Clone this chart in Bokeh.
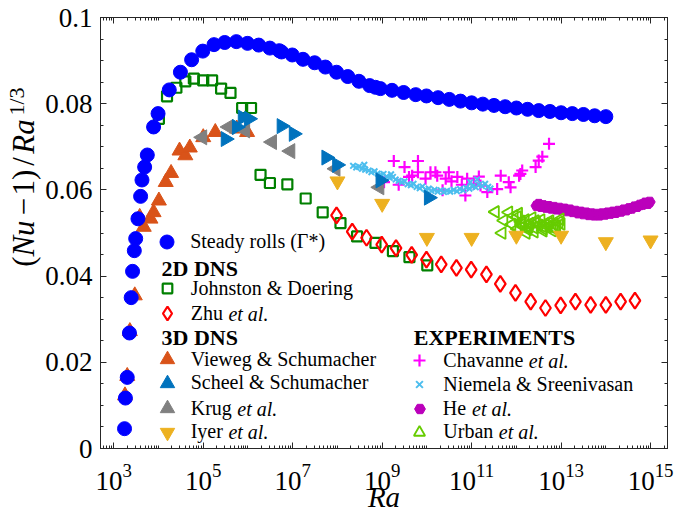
import math
from bokeh.plotting import figure
from bokeh.layouts import row
from bokeh.models import (FixedTicker, LinearAxis, LogAxis, Legend, LegendItem,
                          Label, Range1d)
from bokeh.embed import file_html
from bokeh.resources import INLINE

FONT = "Liberation Serif"
AX = "#262626"

# ---------------- data ----------------
steady_ra = [1.74e3, 1.82e3, 2.00e3, 2.24e3, 2.45e3, 2.63e3, 2.88e3, 3.09e3, 3.47e3, 3.98e3,
             4.27e3, 4.90e3, 5.62e3, 7.76e3, 9.77e3, 1.74e4, 3.09e4, 5.50e4, 9.77e4, 1.74e5,
             3.02e5, 5.50e5, 9.77e5, 1.74e6, 3.09e6, 5.01e6, 5.62e6, 9.77e6, 1.70e7, 3.09e7,
             5.37e7, 9.55e7, 1.70e8, 3.02e8, 5.25e8, 7.08e8, 9.12e8, 1.66e9, 3.02e9, 5.62e9,
             9.77e9, 1.78e10, 3.16e10, 5.62e10, 1.00e11, 1.78e11, 3.16e11, 5.62e11, 1.00e12,
             1.78e12, 3.16e12, 5.62e12, 1.00e13, 1.78e13, 3.16e13, 5.62e13, 1.00e14]
steady_nu = [0.0046, 0.0117, 0.0165, 0.0268, 0.0350, 0.0411, 0.0459, 0.0487, 0.0533, 0.0585,
             0.0623, 0.0653, 0.0681, 0.0746, 0.0777, 0.0832, 0.0873, 0.0902, 0.0922, 0.0937,
             0.0942, 0.0944, 0.0940, 0.0936, 0.0929, 0.0923, 0.0920, 0.0913, 0.0903, 0.0895,
             0.0885, 0.0873, 0.0863, 0.0852, 0.0842, 0.0838, 0.0835, 0.0831, 0.0826, 0.0821,
             0.0818, 0.0814, 0.0810, 0.0806, 0.0802, 0.0799, 0.0796, 0.0793, 0.0790,
             0.0787, 0.0784, 0.0782, 0.0779, 0.0777, 0.0775, 0.0772, 0.0770]

jd_ra = [1.02e4, 1.55e4, 2.51e4, 3.98e4, 6.17e4, 1.00e5, 1.58e5, 2.51e5, 4.07e5, 7.41e5,
         1.17e6, 1.91e6, 3.09e6, 7.59e6, 1.95e7, 4.68e7, 1.17e8, 2.75e8, 7.08e8, 1.74e9,
         4.07e9, 1.02e10]
jd_nu = [0.0765, 0.0817, 0.0837, 0.0852, 0.0858, 0.0854, 0.0854, 0.0835, 0.0825, 0.0790,
         0.0790, 0.0635, 0.0616, 0.0613, 0.0580, 0.0548, 0.0523, 0.0492, 0.0477, 0.0458,
         0.0444, 0.0425]

zhu_ra = [9.55e7, 2.14e8, 4.47e8, 9.77e8, 2.04e9, 4.57e9, 9.77e9, 2.09e10, 4.57e10, 9.77e10,
          2.14e11, 4.37e11, 9.55e11, 2.09e12, 4.47e12, 9.77e12, 2.09e13, 4.57e13, 1.00e14,
          2.14e14, 4.47e14]
zhu_nu = [0.0541, 0.0503, 0.0489, 0.0473, 0.0465, 0.0449, 0.0438, 0.0427, 0.0419, 0.0415,
          0.0404, 0.0382, 0.0361, 0.0341, 0.0326, 0.0332, 0.0341, 0.0333, 0.0333,
          0.0341, 0.0343]

vie_ra = [1.78e3, 2.00e3, 2.29e3, 2.95e3, 3.80e3, 4.68e3, 6.61e3, 7.76e3, 1.02e4, 1.45e4,
          1.91e4, 2.95e4, 3.98e4, 5.01e4, 1.00e5, 1.86e5, 5.62e5, 9.55e5]
vie_nu = [0.0123, 0.0168, 0.0272, 0.0355, 0.0537, 0.0514, 0.0533, 0.0548, 0.0575, 0.0618,
          0.0639, 0.0691, 0.0680, 0.0698, 0.0722, 0.0734, 0.0742, 0.0734]

scheel_ra = [3.16e5, 5.62e5, 7.59e5, 1.05e6, 5.62e6, 1.05e7, 5.62e7, 9.77e7, 9.12e8, 1.10e10]
scheel_nu = [0.0718, 0.0746, 0.0768, 0.0765, 0.0748, 0.0730, 0.0675, 0.0658, 0.0622, 0.0582]

krug_ra = [9.55e4, 3.72e5, 8.71e5, 3.47e6, 8.91e6, 9.12e7, 8.71e8]
krug_nu = [0.0722, 0.0746, 0.0738, 0.0711, 0.0690, 0.0649, 0.0606]

iyer_ra = [1e8, 1e9, 1e10, 1e11, 1e12, 1e13, 1e14, 1e15]
iyer_nu = [0.0620, 0.0568, 0.0489, 0.0489, 0.0494, 0.0494, 0.0479, 0.0483]

chav_ra = [1.10e9, 1.82e9, 2.34e9, 3.16e9, 3.98e9, 4.68e9, 6.31e9, 6.31e9, 9.33e9, 1.20e10,
           1.55e10, 1.70e10, 2.24e10, 2.63e10, 3.09e10, 3.55e10, 4.79e10, 6.03e10, 7.24e10,
           7.94e10, 1.12e11, 1.45e11, 1.58e11, 2.24e11, 3.72e11, 4.47e11, 6.76e11, 7.41e11,
           1.15e12, 1.23e12, 1.35e12, 2.69e12, 3.16e12, 3.80e12, 5.37e12]
chav_nu = [0.0618, 0.0667, 0.0612, 0.0653, 0.0630, 0.0633, 0.0667, 0.0641, 0.0626, 0.0641,
           0.0641, 0.0633, 0.0599, 0.0626, 0.0641, 0.0620, 0.0630, 0.0612, 0.0587,
           0.0626, 0.0614, 0.0631, 0.0610, 0.0595, 0.0602, 0.0633, 0.0618, 0.0606,
           0.0633, 0.0637, 0.0645, 0.0653, 0.0668, 0.0677, 0.0707]

niem_ra = [2.24e8, 2.63e8, 3.02e8, 3.55e8, 3.98e8, 4.17e8, 5.01e8, 5.75e8, 6.76e8, 7.94e8,
           9.33e8, 1.07e9, 1.26e9, 1.48e9, 1.58e9, 1.74e9, 2.00e9, 2.34e9, 2.75e9, 3.16e9,
           3.72e9, 4.37e9, 5.01e9, 5.89e9, 6.92e9, 7.94e9, 9.33e9, 1.10e10, 1.26e10, 1.48e10,
           1.74e10, 2.04e10, 2.40e10, 2.82e10, 3.31e10, 3.98e10, 4.68e10, 5.50e10, 6.46e10,
           7.59e10, 8.91e10, 9.33e10, 1.05e11, 1.23e11, 1.32e11, 1.45e11, 1.70e11, 2.00e11,
           2.34e11, 2.63e11]
niem_nu = [0.0656, 0.0652, 0.0654, 0.0649, 0.0658, 0.0647, 0.0645, 0.0641, 0.0643, 0.0638,
           0.0635, 0.0637, 0.0631, 0.0628, 0.0636, 0.0630, 0.0624, 0.0621, 0.0618, 0.0620,
           0.0613, 0.0611, 0.0614, 0.0607, 0.0604, 0.0608, 0.0601, 0.0603, 0.0598, 0.0600,
           0.0596, 0.0599, 0.0595, 0.0598, 0.0596, 0.0600, 0.0597, 0.0602, 0.0599,
           0.0605, 0.0603, 0.0618, 0.0608, 0.0606, 0.0624, 0.0612, 0.0609, 0.0614,
           0.0607, 0.0603]

he_ra = [2.82e12, 3.16e12, 3.55e12, 3.98e12, 4.57e12, 5.25e12, 6.03e12, 6.92e12, 7.94e12,
         9.12e12, 1.05e13, 1.20e13, 1.38e13, 1.58e13, 1.82e13, 2.09e13, 2.40e13, 2.75e13,
         3.16e13, 3.63e13, 4.17e13, 4.79e13, 5.50e13, 6.31e13, 7.24e13, 8.32e13, 9.55e13,
         1.10e14, 1.26e14, 1.45e14, 1.66e14, 1.91e14, 2.19e14, 2.51e14, 2.88e14, 3.31e14,
         3.80e14, 4.37e14, 5.01e14, 5.75e14, 6.61e14, 7.59e14, 8.71e14, 9.55e14]
he_nu = [0.0563, 0.0567, 0.0561, 0.0564, 0.0559, 0.0562, 0.0557, 0.0560, 0.0555,
         0.0558, 0.0553, 0.0556, 0.0551, 0.0554, 0.0549, 0.0551, 0.0546, 0.0549,
         0.0544, 0.0547, 0.0542, 0.0545, 0.0541, 0.0544, 0.0541, 0.0545, 0.0543,
         0.0547, 0.0545, 0.0549, 0.0547, 0.0551, 0.0550, 0.0554, 0.0553, 0.0557,
         0.0557, 0.0561, 0.0561, 0.0565, 0.0566, 0.0570, 0.0568, 0.0572]

urban_ra = [3.39e11, 6.76e11, 5.25e11, 1.05e12, 4.79e11, 1.05e12, 7.94e11, 1.26e12, 1.41e12,
            1.58e12, 1.78e12, 2.00e12, 2.24e12, 2.51e12, 2.82e12, 3.16e12, 3.55e12, 3.98e12,
            4.47e12, 5.01e12, 5.62e12, 6.31e12, 7.08e12, 7.94e12, 8.91e12, 1.00e13, 1.66e12,
            2.51e12, 3.98e12, 6.31e12, 9.55e12, 8.91e11, 1.12e12, 1.32e12, 1.91e12, 2.63e12,
            3.80e12, 5.25e12, 7.59e12]
urban_nu = [0.0549, 0.0548, 0.0529, 0.0537, 0.0500, 0.0510, 0.0520, 0.0527, 0.0515,
            0.0530, 0.0508, 0.0522, 0.0535, 0.0512, 0.0525, 0.0518, 0.0530, 0.0510,
            0.0522, 0.0515, 0.0528, 0.0512, 0.0520, 0.0516, 0.0525, 0.0521, 0.0500,
            0.0503, 0.0505, 0.0506, 0.0532, 0.0540, 0.0545, 0.0520, 0.0514, 0.0528,
            0.0516, 0.0522, 0.0510]

y_ticks = [0, 0.02, 0.04, 0.06, 0.08, 0.1]
y_tick_labels = ["0", "0.02", "0.04", "0.06", "0.08", "0.1"]
y_minor = [0.005 * i for i in range(21)]
x_ticks = [1e3, 1e5, 1e7, 1e9, 1e11, 1e13, 1e15]
x_minor = [m * 10.0 ** d for d in range(2, 16) for m in range(1, 10)]

# ---------------- layout geometry ----------------
W, H = 674, 518
STRIP = 42          # narrow strip on the left that carries the y-axis title
FL, FB = 100, 448   # frame left / bottom in page pixels

# left strip: its frame is the whole strip, so its texts are never clipped
ystrip = figure(width=STRIP, height=H, output_backend="svg", toolbar_location=None,
                min_border=0, x_axis_location=None, y_axis_location=None,
                x_range=Range1d(0, 1), y_range=Range1d(0, 1))
ystrip.grid.visible = False
ystrip.outline_line_color = None
ystrip.background_fill_color = "white"
ystrip.border_fill_color = "white"

p = figure(width=W - STRIP, height=H, x_axis_type="log",
           x_range=Range1d(505, 2.39e15), y_range=Range1d(0, 0.1),
           output_backend="svg", toolbar_location=None,
           min_border_left=FL - STRIP, min_border_right=7, min_border_top=17,
           min_border_bottom=H - FB)
p.grid.visible = False
p.outline_line_color = AX
p.background_fill_color = "white"
p.border_fill_color = "white"

xt = FixedTicker(ticks=x_ticks, minor_ticks=x_minor)
yt = FixedTicker(ticks=y_ticks, minor_ticks=y_minor)
p.xaxis.ticker = xt
p.yaxis.ticker = yt
p.yaxis.major_label_overrides = dict(zip(y_ticks, y_tick_labels))

p.add_layout(LinearAxis(ticker=yt), "right")
p.add_layout(LogAxis(ticker=xt), "above")

for ax in p.axis:
    ax.major_tick_in = 6
    ax.major_tick_out = 0
    ax.minor_tick_in = 3
    ax.minor_tick_out = 0
    ax.axis_line_color = AX
    ax.major_tick_line_color = AX
    ax.minor_tick_line_color = AX
    ax.major_label_text_font = FONT
    ax.major_label_text_font_size = "27px"
    ax.major_label_text_color = "black"
    ax.major_label_standoff = 8

for ax in (p.right[0], p.above[0]):
    ax.major_label_text_font_size = "2px"
    ax.major_label_text_color = None
    ax.major_label_standoff = 0

xb = p.below[0]
xb.major_label_standoff = 15
xb.axis_label = "Ra"
xb.axis_label_text_font = FONT
xb.axis_label_text_font_size = "29px"
xb.axis_label_text_font_style = "italic"
xb.axis_label_text_color = "black"
xb.axis_label_standoff = -12

# ---------------- data renderers ----------------
r_chav = p.scatter(chav_ra, chav_nu, marker="cross", size=12, line_color="#FF00FF", line_width=2.2)
r_niem = p.scatter(niem_ra, niem_nu, marker="x", size=8, line_color="#4DBEEE", line_width=2)
r_he = p.scatter(he_ra, he_nu, marker="hex", size=11, fill_color="#BB00BB", line_color="#BB00BB")
r_urban = p.scatter(urban_ra, urban_nu, marker="triangle", angle=math.pi / 2, size=12,
                    fill_color=None, line_color="#66CC00", line_width=1.8)
r_jd = p.scatter(jd_ra, jd_nu, marker="square", size=10, fill_color=None,
                 line_color="#008000", line_width=2.2)
r_zhu = p.scatter(zhu_ra, zhu_nu, marker="diamond", size=16, fill_color=None,
                  line_color="#FF0000", line_width=2.2)
r_vie = p.scatter(vie_ra, vie_nu, marker="triangle", size=15, color="#D95319")
r_krug = p.scatter(krug_ra, krug_nu, marker="triangle", angle=math.pi / 2, size=15, color="#808080")
r_scheel = p.scatter(scheel_ra, scheel_nu, marker="triangle", angle=-math.pi / 2, size=15,
                     color="#0072BD")
r_iyer = p.scatter(iyer_ra, iyer_nu, marker="inverted_triangle", size=15, color="#EDB120")
r_steady = p.scatter(steady_ra, steady_nu, marker="circle", size=14, color="#0000FF")


def add_label(fig, txt, sx, sy, size, style="normal", align="left", angle=0):
    fig.add_layout(Label(x=sx, y=sy, x_units="screen", y_units="screen", text=txt,
                         angle=angle, angle_units="deg",
                         text_font=FONT, text_font_size=f"{size}px", text_font_style=style,
                         text_color="black", text_align=align, text_baseline="middle"))


# ---------------- legend (one entry per item, placed like the original) ----------------
def add_entry(renderer, label, cx, cy, gs, tx, etal_dx=None):
    leg = Legend(items=[LegendItem(label=label, renderers=[renderer])],
                 location=(cx - gs / 2 - FL, FB - cy - gs / 2),
                 glyph_width=gs, glyph_height=gs, padding=0, margin=0, spacing=0,
                 label_standoff=int(round(tx - (cx + gs / 2))),
                 label_text_font=FONT, label_text_font_size="20px", label_text_color="black",
                 label_height=gs, border_line_color=None, background_fill_alpha=0)
    p.add_layout(leg)
    if etal_dx is not None:
        add_label(p, "et al.", tx + etal_dx - FL, FB - cy, 20, style="italic")


LX, LT = 166.7, 190.7
RX, RT = 419.3, 443.3
add_entry(r_steady, "Steady rolls (\u0393*)", LX, 241.7, 35, LT)
add_entry(r_jd, "Johnston & Doering", LX, 288.3, 24, LT)
add_entry(r_zhu, "Zhu", LX, 313.3, 34, LT, 37.2)
add_entry(r_vie, "Vieweg & Schumacher", LX, 359.3, 36, LT)
add_entry(r_scheel, "Scheel & Schumacher", LX, 382.7, 36, LT)
add_entry(r_krug, "Krug", LX, 408.3, 36, LT, 46.1)
add_entry(r_iyer, "Iyer", LX, 431.7, 36, LT, 37.2)
add_entry(r_chav, "Chavanne", RX, 360.0, 30, RT, 85.0)
add_entry(r_niem, "Niemela & Sreenivasan", RX, 384.0, 24, RT)
add_entry(r_he, "He", RX, 408.3, 27, RT, 28.3)
add_entry(r_urban, "Urban", RX, 431.7, 28, RT, 55.0)

for txt, cx, cy in [("2D DNS", 161, 268.3), ("3D DNS", 161, 336.5), ("EXPERIMENTS", 413.3, 336.5)]:
    add_label(p, txt, cx - FL, FB - cy, 22, style="bold")

# ---------------- y-axis title: pieces (italic Nu / Ra, raised 1/3), reading upwards ----------------
# each piece is centred (rotation-safe anchor); cy = page y of the piece centre
ylab = [("(", 331, "normal", 31, 23), ("Nu", 308, "italic", 31, 23), ("\u2212", 276, "normal", 31, 23),
        ("1)", 252, "normal", 31, 23), ("/", 231, "normal", 31, 23), ("Ra", 206, "italic", 31, 23),
        ("1/3", 171, "normal", 22, 16)]
for txt, cy, style, fs, cx in ylab:
    add_label(ystrip, txt, cx, H - cy, fs, style=style, align="center", angle=90)

layout = row(ystrip, p, spacing=0)
open("out.html", "w").write(file_html(layout, INLINE))
